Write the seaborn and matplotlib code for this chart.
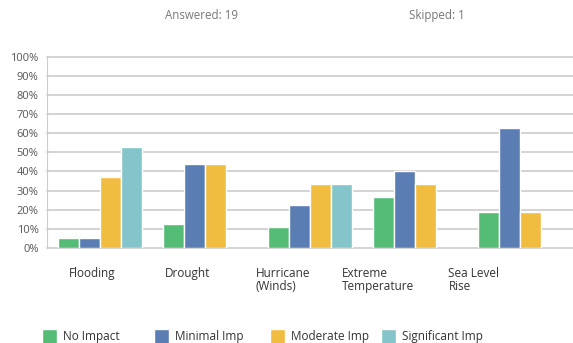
import numpy as np
import pandas as pd
import matplotlib.pyplot as plt
import seaborn as sns

categories = ['Flooding', 'Drought', 'Hurricane\n(Winds)', 'Extreme\nTemperature', 'Sea Level\nRise']
levels = ['No Impact', 'Minimal Imp', 'Moderate Imp', 'Significant Imp']
no_impact = [5.26, 12.5, 11.11, 26.67, 18.75]
minimal_imp = [5.26, 43.75, 22.22, 40.0, 62.5]
moderate_imp = [36.84, 43.75, 33.33, 33.33, 18.75]
significant_imp = [52.63, np.nan, 33.33, np.nan, np.nan]
colors = ['#55bc75', '#5a7db3', '#f0bd41', '#83c5ca']

rows = []
for lvl, vals in zip(levels, [no_impact, minimal_imp, moderate_imp, significant_imp]):
    for c, v in zip(categories, vals):
        rows.append({'category': c, 'level': lvl, 'pct': v})
df = pd.DataFrame(rows)

sns.set_style('white')
plt.rcParams['font.family'] = ['Open Sans', 'DejaVu Sans']

fig = plt.figure(figsize=(5.73, 3.43), dpi=100)
ax = fig.add_axes([0.082, 0.277, 0.918, 0.558])
sns.barplot(data=df, x='category', y='pct', hue='level', order=categories,
            hue_order=levels, palette=colors, saturation=1, width=0.8,
            edgecolor='white', linewidth=1, errorbar=None, ax=ax)

ax.set_xlim(-0.5, 4.5)
ax.set_ylim(0, 100)
ax.set_yticks(range(0, 101, 10))
ax.set_yticklabels([f'{t}%' for t in range(0, 101, 10)], fontsize=8, color='#555555')
ax.yaxis.grid(True, color='#cccccc', linewidth=1.2)
ax.set_axisbelow(True)
for g in ax.get_ygridlines():
    g.set_clip_on(False)
for s in ['top', 'right', 'bottom']:
    ax.spines[s].set_visible(False)
ax.spines['left'].set_color('#cccccc')
ax.tick_params(axis='y', length=0, pad=6)
ax.tick_params(axis='x', length=0, pad=14)

# category labels sit on a slightly tighter spacing than the bar groups
ax.set_xticks([i * 0.907 - 0.07 for i in range(len(categories))])
ax.set_xticklabels(categories, fontsize=8.5, color='#333333', multialignment='left',
                   va='top', linespacing=1.0)
ax.set_xlabel('')
ax.set_ylabel('')

handles, labels = ax.get_legend_handles_labels()
ax.get_legend().remove()
legend_x = [43, 155, 271, 382]
for x0, h, l in zip(legend_x, handles, labels):
    fig.legend([h], [l], loc='center left', bbox_to_anchor=((x0 - 2) / 573, 0.02),
               frameon=False, fontsize=8.5, handlelength=1.25, handleheight=1.6,
               handletextpad=0.5, borderpad=0.1, borderaxespad=0, labelcolor='#333333')

fig.text(0.352, 0.955, 'Answered: 19', ha='center', va='center', fontsize=8.3, color='#777777')
fig.text(0.763, 0.955, 'Skipped: 1', ha='center', va='center', fontsize=8.3, color='#777777')

fig.savefig('out.png', dpi=100)
